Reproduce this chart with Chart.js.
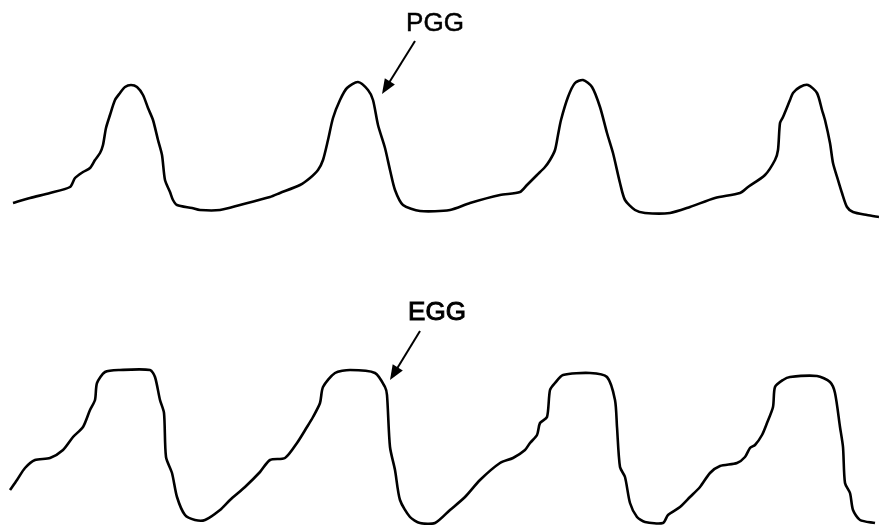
<!DOCTYPE html>
<html>
<head>
<meta charset="utf-8">
<script src="https://cdn.jsdelivr.net/npm/chart.js@4"></script>
<style>
  html, body { margin: 0; padding: 0; background: #fff; }
  #wrap { width: 879px; height: 525px; }
</style>
</head>
<body>
<div id="wrap"><canvas id="waveChart"></canvas></div>
<script>
// PGG trace (sample index, level; level axis runs downward)
const pggX = [13, 30, 50, 70, 75, 83, 90, 95, 100, 103, 106, 110, 115, 120, 125, 131, 137, 143, 148, 153, 158, 162, 165, 170, 173, 177, 192, 200, 220, 240, 270, 280, 300, 310, 318, 323, 328, 333, 340, 347, 358, 368, 373, 378, 385, 390, 395, 403, 420, 450, 470, 500, 520, 527, 537, 545, 550, 555, 558, 561, 568, 575, 583, 592, 600, 607, 613, 620, 625, 635, 645, 670, 690, 715, 740, 748, 765, 775, 778, 780, 783, 790, 793, 800, 808, 817, 822, 825, 830, 833, 838, 842, 847, 853, 867, 879];
const pggY = [203, 198, 193, 187, 178, 172, 168, 160, 153, 145, 128, 115, 100, 93, 87, 85, 87, 95, 108, 120, 140, 155, 180, 192, 200, 205, 208, 210, 210, 205, 197, 193, 185, 178, 170, 160, 140, 118, 100, 88, 82, 90, 100, 125, 148, 170, 190, 205, 211, 210, 203, 195, 192, 185, 175, 167, 160, 150, 135, 120, 97, 83, 80, 87, 107, 133, 153, 183, 200, 210, 213, 213, 207, 198, 193, 187, 175, 160, 150, 123, 117, 100, 93, 87, 85, 93, 110, 120, 143, 163, 180, 193, 207, 212, 215, 217];

// EGG trace
const eggX = [10, 17, 25, 35, 50, 63, 73, 83, 90, 95, 97, 105, 120, 150, 155, 160, 164, 166, 172, 177, 185, 195, 205, 220, 230, 245, 260, 270, 285, 297, 307, 313, 320, 323, 335, 350, 375, 385, 387, 390, 395, 400, 410, 420, 435, 450, 465, 480, 500, 513, 525, 530, 537, 540, 547, 550, 555, 563, 590, 607, 615, 617, 620, 625, 630, 637, 645, 663, 668, 680, 690, 700, 710, 720, 737, 745, 750, 755, 762, 767, 773, 775, 783, 790, 817, 830, 835, 840, 843, 845, 850, 853, 860, 875];
const eggY = [490, 480, 468, 460, 458, 450, 437, 427, 410, 400, 383, 372, 370, 370, 377, 400, 413, 457, 473, 497, 515, 520, 520, 510, 500, 487, 472, 460, 458, 443, 427, 417, 403, 387, 373, 370, 373, 387, 395, 447, 470, 500, 517, 523, 523, 510, 497, 480, 463, 458, 450, 443, 435, 423, 417, 390, 383, 375, 373, 377, 400, 427, 467, 477, 503, 517, 522, 523, 515, 507, 497, 487, 473, 466, 463, 457, 448, 445, 435, 423, 407, 387, 380, 377, 376, 382, 393, 427, 447, 483, 493, 510, 520, 523];

// label text and arrow (tail -> tip) in the same units
const labels = [
  { text: 'PGG', x: 435, y: 24, tail: [415, 41], tip: [382, 94], heavy: false },
  { text: 'EGG', x: 437, y: 313, tail: [420, 331], tip: [390, 380], heavy: true }
];

function toPoints(xs, ys) {
  return xs.map((x, i) => ({ x: x, y: ys[i] }));
}

const labelPlugin = {
  id: 'waveLabels',
  afterDatasetsDraw(chart) {
    const ctx = chart.ctx;
    const sx = chart.scales.x, sy = chart.scales.y;
    ctx.save();
    ctx.fillStyle = '#000';
    ctx.strokeStyle = '#000';
    ctx.font = '26px "Liberation Sans", Arial, sans-serif';
    ctx.textAlign = 'center';
    ctx.textBaseline = 'middle';
    labels.forEach(l => {
      const tx = sx.getPixelForValue(l.x), ty = sy.getPixelForValue(l.y);
      ctx.fillText(l.text, tx, ty);
      ctx.lineWidth = l.heavy ? 1 : 0.5;
      ctx.strokeText(l.text, tx, ty);
      const x1 = sx.getPixelForValue(l.tail[0]), y1 = sy.getPixelForValue(l.tail[1]);
      const x2 = sx.getPixelForValue(l.tip[0]), y2 = sy.getPixelForValue(l.tip[1]);
      const ang = Math.atan2(y2 - y1, x2 - x1);
      ctx.lineWidth = 2;
      ctx.beginPath();
      ctx.moveTo(x1, y1);
      ctx.lineTo(x2 - 8 * Math.cos(ang), y2 - 8 * Math.sin(ang));
      ctx.stroke();
      // arrow head
      const len = 16, wid = 0.38;
      ctx.beginPath();
      ctx.moveTo(x2, y2);
      ctx.lineTo(x2 - len * Math.cos(ang - wid), y2 - len * Math.sin(ang - wid));
      ctx.lineTo(x2 - len * Math.cos(ang + wid), y2 - len * Math.sin(ang + wid));
      ctx.closePath();
      ctx.fill();
    });
    ctx.restore();
  }
};

new Chart(document.getElementById('waveChart'), {
  type: 'line',
  data: {
    datasets: [
      { label: 'PGG', data: toPoints(pggX, pggY) },
      { label: 'EGG', data: toPoints(eggX, eggY) }
    ]
  },
  options: {
    responsive: true,
    maintainAspectRatio: false,
    animation: false,
    layout: { padding: 0 },
    elements: {
      line: { borderColor: '#000', borderWidth: 2.6, tension: 0.25, fill: false },
      point: { radius: 0 }
    },
    scales: {
      x: { type: 'linear', min: 0, max: 879, display: false },
      y: { type: 'linear', min: 0, max: 525, reverse: true, display: false }
    },
    plugins: {
      legend: { display: false },
      tooltip: { enabled: false }
    }
  },
  plugins: [labelPlugin]
});
</script>
</body>
</html>
